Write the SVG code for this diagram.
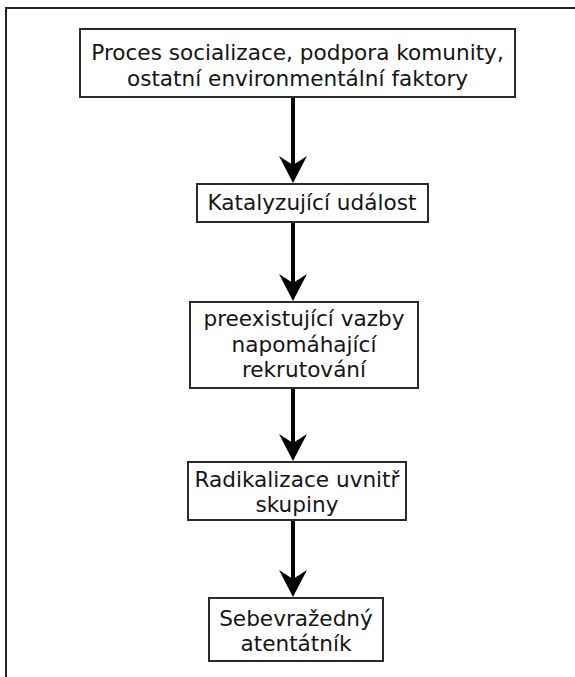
<svg xmlns="http://www.w3.org/2000/svg" width="575" height="677" viewBox="0 0 575 677">
  <style>
    .box { fill: #ffffff; stroke: #2a2a2a; stroke-width: 2; }
    .lbl { font-family: "DejaVu Sans", Verdana, sans-serif; font-size: 21.6px; fill: #151515; text-anchor: middle; }
    .edge { stroke: #000; stroke-width: 4; fill: none; marker-end: url(#arrow); }
  </style>
  <defs>
    <marker id="arrow" markerUnits="userSpaceOnUse" markerWidth="32" markerHeight="32" viewBox="-30 -16 32 32" refX="-12" refY="0" orient="auto">
      <path d="M0,0 L-27,-14 L-18,0 L-27,14 Z" fill="#000"/>
    </marker>
  </defs>
  <rect width="575" height="677" fill="#ffffff"/>
  <rect x="6" y="8" width="620" height="720" fill="none" stroke="#222" stroke-width="2"/>

  <g id="connectors">
    <line class="edge" x1="293" y1="98" x2="293" y2="171"/>
    <line class="edge" x1="293" y1="223" x2="293" y2="289"/>
    <line class="edge" x1="293" y1="389" x2="293" y2="449"/>
    <line class="edge" x1="293" y1="521" x2="293" y2="585"/>
  </g>

  <g id="node1">
    <rect class="box" x="80" y="29" width="435" height="68"/>
    <text class="lbl" x="297.5" y="60">Proces socializace, podpora komunity,</text>
    <text class="lbl" x="297.5" y="86">ostatní environmentální faktory</text>
  </g>
  <g id="node2">
    <rect class="box" x="197" y="184" width="231" height="38"/>
    <text class="lbl" x="312" y="210">Katalyzující událost</text>
  </g>
  <g id="node3">
    <rect class="box" x="190" y="302" width="228" height="86"/>
    <text class="lbl" x="304" y="326">preexistující vazby</text>
    <text class="lbl" x="304" y="352">napomáhající</text>
    <text class="lbl" x="304" y="377">rekrutování</text>
  </g>
  <g id="node4">
    <rect class="box" x="188" y="462" width="218" height="58"/>
    <text class="lbl" x="297" y="487">Radikalizace uvnitř</text>
    <text class="lbl" x="297" y="512">skupiny</text>
  </g>
  <g id="node5">
    <rect class="box" x="209" y="598" width="174" height="63"/>
    <text class="lbl" x="296" y="626">Sebevražedný</text>
    <text class="lbl" x="296" y="651">atentátník</text>
  </g>
</svg>
